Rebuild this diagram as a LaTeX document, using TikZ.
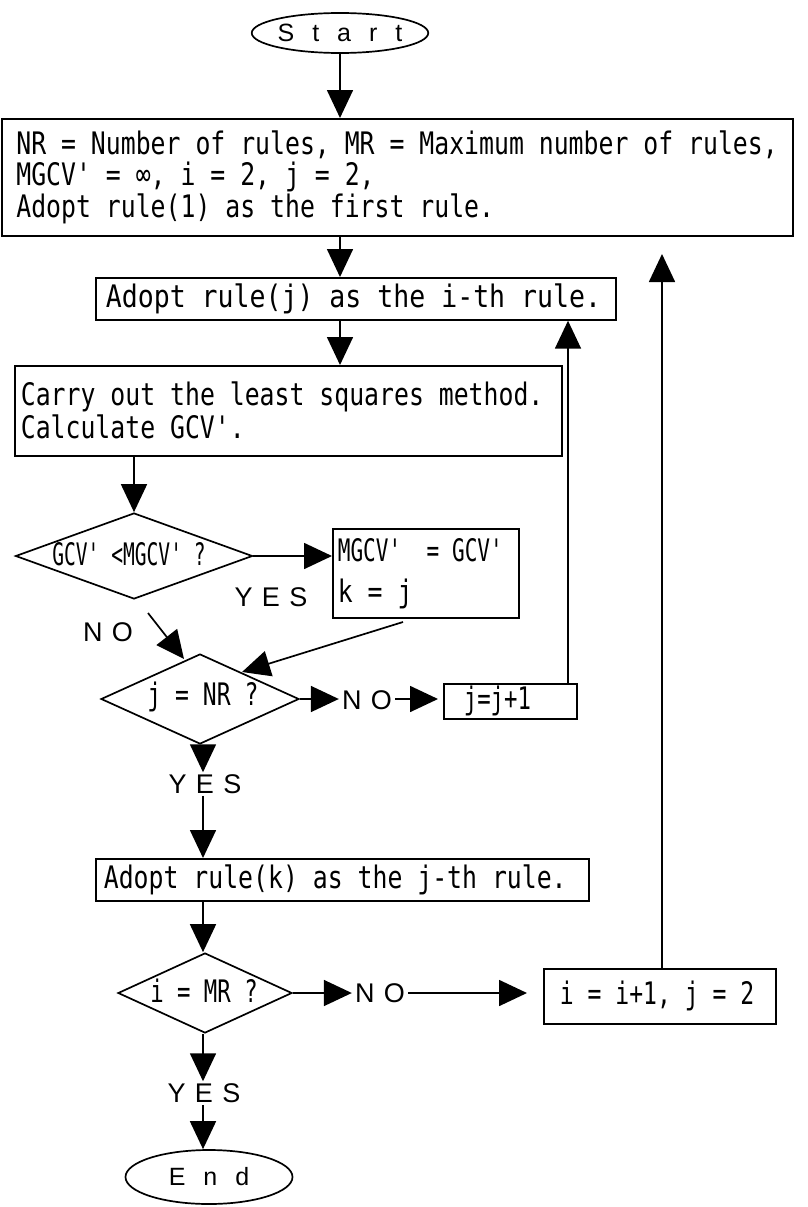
\documentclass[tikz,border=0pt]{standalone}
\usepackage{fontspec}
\usepackage{graphicx}
\setmainfont{Liberation Sans}
\newfontfamily\gfont[FakeStretch=0.8]{DejaVu Sans Mono}
\newfontfamily\lblfont[LetterSpace=35]{Liberation Sans}
\newfontfamily\termfont[LetterSpace=72]{Liberation Sans}
\newcommand\gsize[2]{\gfont\fontsize{#1}{#2}\selectfont}
\usetikzlibrary{arrows.meta,shapes.geometric}
\begin{document}
\begin{tikzpicture}[x=1pt,y=-1pt]
\tikzset{
  box/.style={draw, line width=1.7pt, rectangle, anchor=north west, inner ysep=0pt, align=left,
              font=\gsize{31}{31.5}, execute at begin node={\spaceskip=14.93pt\relax}},
  dec/.style={draw, line width=1.7pt, diamond, inner sep=0pt},
  term/.style={draw, line width=1.7pt, ellipse, inner sep=0pt},
  arr/.style={-{Triangle[length=28pt,width=26pt]}, line width=1.7pt},
  lbl/.style={font=\lblfont\fontsize{27}{27}\selectfont, inner sep=0pt},
  gtext/.style={font=\gsize{31}{31.5}, inner sep=0pt, execute at begin node={\spaceskip=14.93pt\relax}},
}
\fill[white] (0,0) rectangle (807,1207);
\useasboundingbox (0,0) rectangle (807,1207);

% terminals
\node[term, minimum width=166pt, minimum height=40pt, font=\termfont\fontsize{25}{25}\selectfont] (start) at (340,33) {Start};
\node[term, minimum width=167pt, minimum height=54pt, font=\termfont\fontsize{25}{25}\selectfont] (end) at (209,1177) {End};

% boxes
\node[box, text width=762pt, inner xsep=14.5pt, minimum height=117pt] (b1) at (1,118)
  {NR = Number of rules, MR = Maximum number of rules,\\
   MGCV' = ∞, i = 2, j = 2,\\
   Adopt rule(1) as the first rule.};
\node[box, text width=500pt, inner xsep=10pt, minimum height=42pt] (b2) at (95,277)
  {\scalebox{1.07}[1]{Adopt rule(j) as the i-th rule.}};
\node[box, text width=535pt, inner xsep=6pt, minimum height=90pt, font=\gsize{31}{33}] (b3) at (14,365)
  {Carry out the least squares method.\\
   Calculate GCV'.};
\node[box, text width=176pt, inner xsep=5pt, minimum height=89pt, font=\gsize{31}{41}] (b4) at (332,528)
  {\scalebox{0.85}[1]{MGCV'\ \ = GCV'}\\
   k = j};
\node[box, text width=93pt, inner xsep=20pt, minimum height=35pt] (b5) at (443,683)
  {\scalebox{0.9}[1]{j=j+1}};
\node[box, text width=477pt, inner xsep=8pt, minimum height=42pt] (b6) at (95,858)
  {Adopt rule(k) as the j-th rule.};
\node[box, text width=200pt, inner xsep=16pt, minimum height=55pt] (b7) at (543,968)
  {\scalebox{0.93}[1]{i = i+1, j = 2}};

% decisions
\node[dec, minimum width=237pt, minimum height=86pt] (d1) at (134,556) {};
\node[gtext] (d1t) at (129,554) {\scalebox{0.79}[1]{GCV' <MGCV' ?}};
\node[dec, minimum width=198pt, minimum height=90pt] (d2) at (200,699) {};
\node[gtext] (d2t) at (203,697) {\scalebox{0.93}[1]{j = NR ?}};
\node[dec, minimum width=174pt, minimum height=80pt] (d3) at (205,993) {};
\node[gtext] (d3t) at (204,991) {\scalebox{0.9}[1]{i = MR ?}};

% labels
\node[lbl] (yes1) at (271,597) {YES};
\node[lbl] (no1) at (108,632) {NO};
\node[lbl] (no2) at (367,700) {NO};
\node[lbl] (yes2) at (205,784) {YES};
\node[lbl] (no3) at (380,993) {NO};
\node[lbl] (yes3) at (204,1093) {YES};

% helper coordinates
\coordinate (cx340) at (340,0);
\coordinate (cx568) at (568,0);
\coordinate (cx662) at (662,0);
\coordinate (cx203) at (203,0);
\coordinate (n1s) at (148,613);
\coordinate (n1e) at (184,659);
\coordinate (c4s) at (403,622);
\coordinate (c4e) at (242,672);
\coordinate (loopend) at (662,254);

% connectors
\draw[arr] (start.south) -- (start.south |- b1.north);
\draw[arr] (b1.south -| cx340) -- (b2.north -| cx340);
\draw[arr] (b2.south -| cx340) -- (b3.north -| cx340);
\draw[arr] (b3.south -| d1.north) -- (d1.north);
\draw[arr] (d1.east) -- (d1.east -| b4.west);
\draw[arr] (n1s) -- (n1e);
\draw[arr] (c4s) -- (c4e);
\draw[arr, shorten >=3pt] (d2.east) -- (no2.west |- d2.east);
\draw[arr, shorten <=3pt, shorten >=5pt] (no2.east |- d2.east) -- (b5.west |- d2.east);
\draw[arr] (b5.north -| cx568) -- (b2.south -| cx568);
\draw[arr, shorten >=2pt] (d2.south -| cx203) -- (yes2.north -| cx203);
\draw[arr, shorten <=2pt] (yes2.south -| cx203) -- (b6.north -| cx203);
\draw[arr] (b6.south -| cx203) -- (d3.north -| cx203);
\draw[arr, shorten >=3pt] (d3.east) -- (no3.west |- d3.east);
\draw[arr, shorten <=3pt, shorten >=16pt] (no3.east |- d3.east) -- (b7.west |- d3.east);
\draw[arr] (b7.north -| cx662) -- (loopend);
\draw[arr, shorten >=2pt] (d3.south -| cx203) -- (yes3.north -| cx203);
\draw[arr, shorten <=2pt] (yes3.south -| cx203) -- (end.north -| cx203);
\end{tikzpicture}
\end{document}
